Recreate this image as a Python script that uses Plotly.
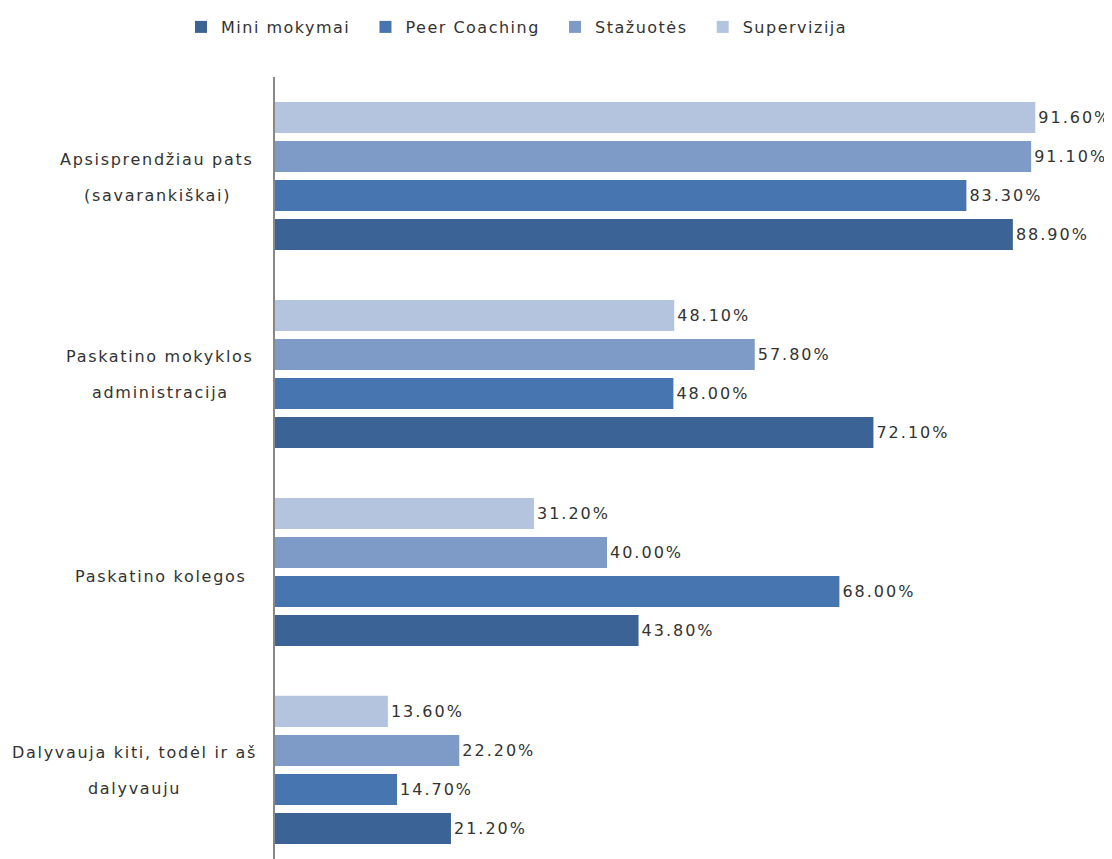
import plotly.graph_objects as go

category_lines = [
    ["Dalyvauja kiti, todėl ir aš", "dalyvauju"],
    ["Paskatino kolegos"],
    ["Paskatino mokyklos", "administracija"],
    ["Apsisprendžiau pats", "(savarankiškai)"],
]
categories = [" ".join(l) for l in category_lines]
series_names = ["Mini mokymai", "Peer Coaching", "Stažuotės", "Supervizija"]
mini_mokymai = [21.2, 43.8, 72.1, 88.9]
peer_coaching = [14.7, 68.0, 48.0, 83.3]
stazuotes = [22.2, 40.0, 57.8, 91.1]
supervizija = [13.6, 31.2, 48.1, 91.6]
colors = ["#3B6396", "#4675B0", "#7E9BC8", "#B4C3DE"]

values = [mini_mokymai, peer_coaching, stazuotes, supervizija]
font_family = "'DejaVu Sans', sans-serif"
text_color = "#333333"


def spaced(s, px):
    return f"<span style='letter-spacing:{px}px'>{s}</span>"


fig = go.Figure()
for name, vals, col in zip(series_names, values, colors):
    fig.add_trace(go.Bar(
        y=categories, x=vals, name=spaced(name, 1.5) + "\u00a0\u00a0",
        orientation="h",
        marker=dict(color=col, line=dict(width=0)),
        text=[spaced(f"{v:.2f}%", 2) for v in vals], textposition="outside",
        textfont=dict(size=16, color=text_color, family=font_family),
        cliponaxis=False,
    ))

# category labels: centred lines, box right edge near the axis
label_centers_px = [134, 161, 160, 157]
for cat, lines, cpx in zip(categories, category_lines, label_centers_px):
    shifts = [-5] if len(lines) == 1 else [17, -19]
    for line, sh in zip(lines, shifts):
        fig.add_annotation(
            xref="paper", yref="y", x=(cpx - 275) / 830, y=cat,
            text=spaced(line, 1.7), showarrow=False, xanchor="center",
            yanchor="middle", yshift=sh,
            font=dict(size=16, color=text_color, family=font_family),
        )

fig.update_layout(
    width=1112, height=859,
    barmode="group", bargap=0.212, bargroupgap=0.2,
    plot_bgcolor="white", paper_bgcolor="white",
    margin=dict(l=267, r=15, t=69, b=0, autoexpand=False),
    font=dict(family=font_family, size=16, color=text_color),
    showlegend=True,
    legend=dict(orientation="h", xref="container", x=173 / 1112, xanchor="left",
                yref="container", y=1 - 19 / 859, yanchor="middle",
                font=dict(size=16, color=text_color, family=font_family),
                traceorder="normal", itemwidth=30),
    xaxis=dict(range=[0, 100], visible=False, showgrid=False, zeroline=False,
               automargin=False),
    yaxis=dict(range=[-0.49, 3.5], showline=True, linecolor="#888888", linewidth=1.5,
               showgrid=False, ticks="", showticklabels=False, automargin=False),
)

fig.write_html("out.html")
